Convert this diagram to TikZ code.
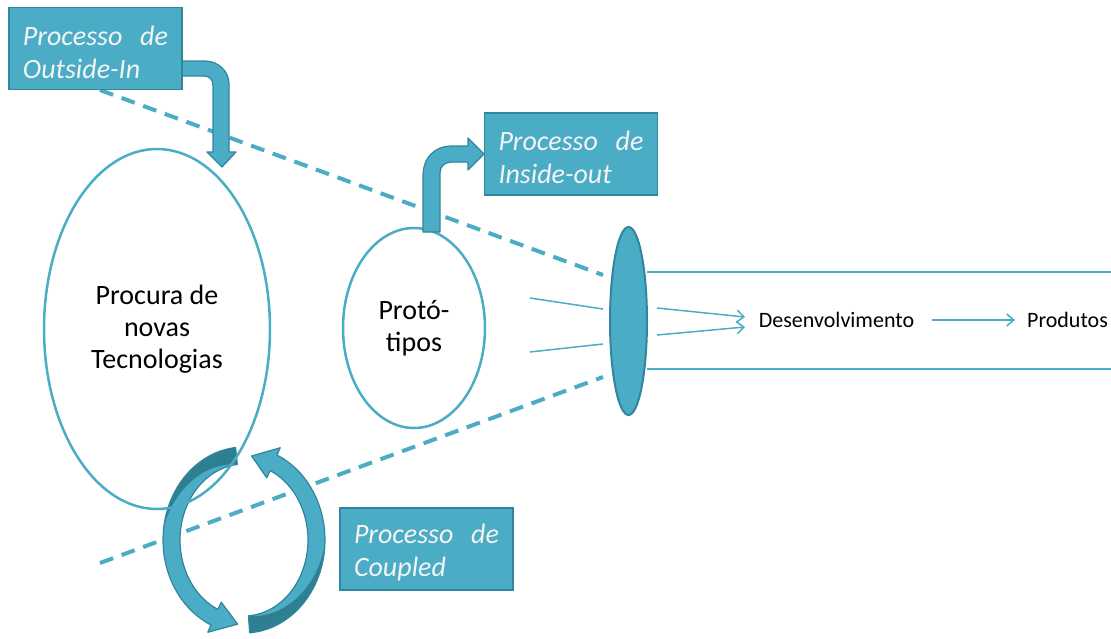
\documentclass[tikz,border=0pt]{standalone}
\usepackage{fontspec}
\setmainfont{Carlito}
\usetikzlibrary{shapes.geometric,arrows.meta}
\definecolor{acc}{HTML}{4BACC6}
\definecolor{accd}{HTML}{31859C}
\definecolor{accdd}{HTML}{2F7F93}
\definecolor{boxtext}{HTML}{F4F4F4}
\newcommand\coupledleftpath{plot[domain=264:114, samples=40, variable=\t] ({244+81*cos(\t)},{540+93*sin(\t)}) -- ({244+89*cos(114)},{540+101*sin(114)}) -- ({244+72.5*cos(95)},{540+84.5*sin(95)}) -- ({244+56*cos(114)},{540+68*sin(114)}) -- plot[domain=114:264, samples=40, variable=\t] ({244+64*cos(\t)},{540+76*sin(\t)}) -- cycle}
\newcommand\coupledrightpath{plot[domain=86:-66, samples=40, variable=\t] ({244+81*cos(\t)},{540+93*sin(\t)}) -- ({244+89*cos(-66)},{540+101*sin(-66)}) -- ({244+72.5*cos(-84)},{540+84.5*sin(-84)}) -- ({244+56*cos(-66)},{540+68*sin(-66)}) -- plot[domain=-66:86, samples=40, variable=\t] ({244+64*cos(\t)},{540+76*sin(\t)}) -- cycle}
\newcommand\boxfirst{\rule{0pt}{27pt}\makebox[145pt][s]{Processo\hfill de}}
\begin{document}
\begin{tikzpicture}[x=1pt,y=-1pt,
  procbox/.style={rectangle, fill=acc, draw=accd, line width=1.8pt, minimum width=173pt, minimum height=82pt, inner xsep=14pt, text=boxtext, align=left, font=\fontsize{28}{33}\selectfont\itshape},
  blockarrow/.style={fill=acc, draw=accd, line width=1.2pt, line join=round},
  outl/.style={ellipse, draw=acc, line width=2.5pt, align=center, font=\fontsize{28}{32}\selectfont, text=black},
  dashedray/.style={draw=acc, line width=4pt, dash pattern=on 14pt off 9pt},
  thinline/.style={draw=acc, line width=1.5pt},
  thinarrow/.style={thinline, -{Straight Barb[length=7pt,width=12pt]}},
  smalltext/.style={font=\fontsize{22}{26}\selectfont, inner sep=0pt, text=black}
]
\useasboundingbox (0,0) rectangle (1111,638);

% coupled circular arrows
\fill[acc] \coupledleftpath;
\fill[accdd] plot[domain=264:188, samples=30, variable=\t] ({244+81*cos(\t)},{540+93*sin(\t)}) -- plot[domain=188:264, samples=30, variable=\t] ({244+(64+17*(264-\t)/76)*cos(\t)},{540+(76+17*(264-\t)/76)*sin(\t)}) -- cycle;
\draw[accd, line width=1.2pt, line join=round] \coupledleftpath;
\fill[acc] \coupledrightpath;
\fill[accdd] plot[domain=86:2, samples=30, variable=\t] ({244+81*cos(\t)},{540+93*sin(\t)}) -- plot[domain=2:86, samples=30, variable=\t] ({244+(64+17*(86-\t)/84)*cos(\t)},{540+(76+17*(86-\t)/84)*sin(\t)}) -- cycle;
\draw[accd, line width=1.2pt, line join=round] \coupledrightpath;

% dashed funnel lines
\coordinate (t1) at (100,90);
\coordinate (t2) at (603,275);
\coordinate (b1) at (100,563);
\coordinate (b2) at (603,377);
\draw[dashedray] (t1) -- (t2);
\draw[dashedray] (b1) -- (b2);

% ellipses
\node[outl, minimum width=226pt, minimum height=360pt] (tec) at (157,329) {Procura de\\novas\\Tecnologias};
\node[outl, minimum width=142pt, minimum height=200pt] (proto) at (414,328) {Prot\'o-\\tipos};

% lens
\node[ellipse, fill=acc, draw=accd, line width=2pt, minimum width=37pt, minimum height=188pt] (lens) at (628.5,321) {};

% thin lines into lens
\coordinate (l1a) at (530,298); \coordinate (l1b) at (603,309);
\coordinate (l2a) at (530,352); \coordinate (l2b) at (603,344);
\draw[thinline] (l1a) -- (l1b);
\draw[thinline] (l2a) -- (l2b);

% horizontal channel lines
\coordinate (h1a) at (647,272); \coordinate (h1b) at (1111,272);
\coordinate (h2a) at (647,369); \coordinate (h2b) at (1111,369);
\draw[draw=acc, line width=2pt] (h1a) -- (h1b);
\draw[draw=acc, line width=2pt] (h2a) -- (h2b);

% texts and arrows
\node[smalltext] (dev) at (836.5,320) {Desenvolvimento};
\node[smalltext] (prod) at (1067.5,320) {Produtos};
\coordinate (r1a) at (657,308); \coordinate (r1b) at (745,317);
\coordinate (r2a) at (657,335); \coordinate (r2b) at (745,327);
\draw[thinarrow] (r1a) -- (r1b);
\draw[thinarrow] (r2a) -- (r2b);
\draw[thinarrow, shorten <=18pt, shorten >=12pt] (dev.east) -- (prod.west);

% bent arrow outside-in
\draw[blockarrow] (182,61) -- (205,61) .. controls (218,61) and (229,71) .. (229,84) -- (229,152) -- (236,152) -- (222,167) -- (207,152) -- (213,152) -- (213,86) .. controls (213,80) and (210,76) .. (204,76) -- (182,76) -- cycle;
% bent arrow inside-out
\draw[blockarrow] (423,232) -- (423,176) .. controls (423,158) and (434,146) .. (452,146) -- (468,146) -- (468,138) -- (484,154) -- (468,170) -- (468,162) -- (452,162) .. controls (445,162) and (440,166) .. (440,173) -- (440,232) -- cycle;

% process boxes
\node[procbox] (oi) at (95.5,48.5) {\boxfirst\\Outside-In};
\node[procbox] (io) at (571,154) {\boxfirst\\Inside-out};
\node[procbox] (cp) at (426.5,549) {\boxfirst\\Coupled};
\end{tikzpicture}
\end{document}
